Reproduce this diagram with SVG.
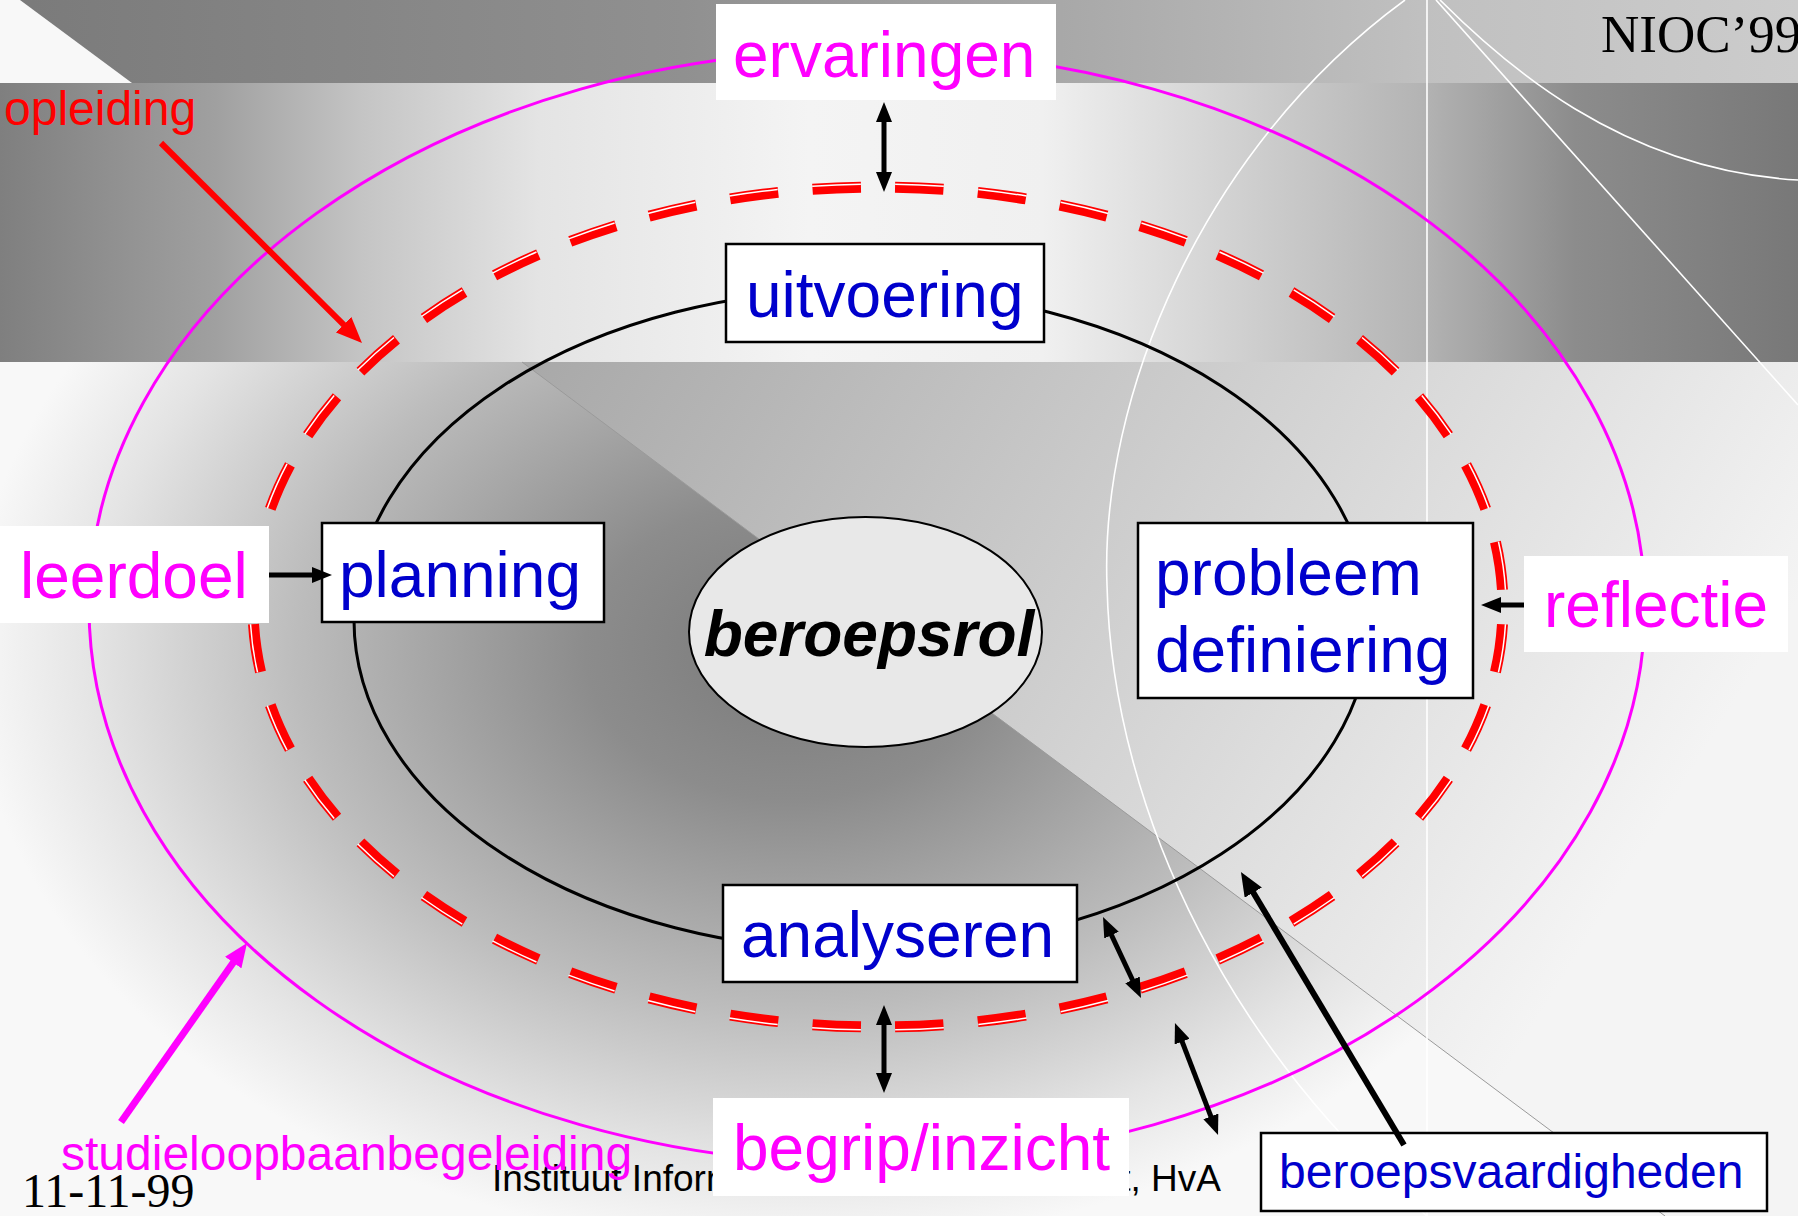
<svg xmlns="http://www.w3.org/2000/svg" width="1798" height="1216" viewBox="0 0 1798 1216">
<style>
.t{font-family:"Liberation Sans",Arial,sans-serif}
.big{font-size:64px}
.sm{font-size:48px}
.blue{fill:#0000cc}
.mag{fill:#ff00ff}
.red{fill:#ff0000}
.box{fill:#ffffff;stroke:#000000;stroke-width:2.5}
.lab{fill:#ffffff}
.wl{fill:none;stroke:#ffffff;stroke-width:1.6}
.ak{stroke:#000000;stroke-width:5;fill:none}
</style>
<defs>
<linearGradient id="gTop" gradientUnits="userSpaceOnUse" x1="0" y1="0" x2="1798" y2="0">
<stop offset="0" stop-color="#7a7a7a"/><stop offset="0.38" stop-color="#909090"/><stop offset="0.59" stop-color="#a8a8a8"/><stop offset="0.79" stop-color="#c0c0c0"/><stop offset="1" stop-color="#cccccc"/>
</linearGradient>
<linearGradient id="gMid" gradientUnits="userSpaceOnUse" x1="0" y1="0" x2="1798" y2="0">
<stop offset="0" stop-color="#7f7f7f"/><stop offset="0.12" stop-color="#a0a0a0"/><stop offset="0.2" stop-color="#c4c4c4"/><stop offset="0.3" stop-color="#e4e4e4"/><stop offset="0.45" stop-color="#f4f4f4"/><stop offset="0.58" stop-color="#f0f0f0"/><stop offset="0.69" stop-color="#d0d0d0"/><stop offset="0.79" stop-color="#b4b4b4"/><stop offset="0.876" stop-color="#8c8c8c"/><stop offset="1" stop-color="#787878"/>
</linearGradient>
<radialGradient id="gLow" gradientUnits="userSpaceOnUse" cx="790" cy="650" r="820" gradientTransform="translate(790 650) scale(1 0.73) translate(-790 -650)">
<stop offset="0" stop-color="#7a7a7a"/><stop offset="0.25" stop-color="#8c8c8c"/><stop offset="0.6" stop-color="#bcbcbc"/><stop offset="0.85" stop-color="#e4e4e4"/><stop offset="1" stop-color="#f8f8f8"/>
</radialGradient>
<linearGradient id="gRight" gradientUnits="userSpaceOnUse" x1="522" y1="362" x2="1550" y2="1000">
<stop offset="0" stop-color="#a8a8a8"/><stop offset="1" stop-color="#f4f4f4"/>
</linearGradient>
<marker id="mK" markerUnits="userSpaceOnUse" markerWidth="20" markerHeight="16" refX="4" refY="8" orient="auto-start-reverse"><path d="M0,0 L20,8 L0,16 Z" fill="#000000"/></marker>
<marker id="mK2" markerUnits="userSpaceOnUse" markerWidth="24" markerHeight="20" refX="5" refY="10" orient="auto"><path d="M0,0 L24,10 L0,20 Z" fill="#000000"/></marker>
<marker id="mR" markerUnits="userSpaceOnUse" markerWidth="26" markerHeight="22" refX="5" refY="11" orient="auto"><path d="M0,0 L26,11 L0,22 Z" fill="#ff0000"/></marker>
<marker id="mM" markerUnits="userSpaceOnUse" markerWidth="24" markerHeight="20" refX="5" refY="10" orient="auto"><path d="M0,0 L24,10 L0,20 Z" fill="#ff00ff"/></marker>
</defs>

<g id="background">
<rect x="0" y="0" width="1798" height="83" fill="url(#gTop)"/>
<polygon points="0,0 20,0 132,83 0,83" fill="#f8f8f8"/>
<rect x="0" y="83" width="1798" height="279" fill="url(#gMid)"/>
<rect x="0" y="362" width="1798" height="854" fill="url(#gLow)"/>
<polygon points="522,362 1798,362 1798,1216 1665,1216" fill="url(#gRight)"/>
<line x1="522" y1="362" x2="1665" y2="1216" stroke="#9a9a9a" stroke-width="1"/>
<line x1="1427" y1="0" x2="1427" y2="1216" class="wl"/>
<path d="M1405,0 C1200,150 1100,400 1107,585 C1112,820 1240,1060 1427,1216" class="wl"/>
<line x1="1436" y1="0" x2="1798" y2="405" class="wl"/>
<path d="M1440,0 C1500,60 1620,170 1798,180" class="wl"/>
</g>

<g id="footer">
<text x="1601" y="52" font-family="'Liberation Serif','Times New Roman',serif" font-size="53" fill="#000000">NIOC’99</text>
<text x="22" y="1207" font-family="'Liberation Serif','Times New Roman',serif" font-size="48" fill="#000000">11-11-99</text>
<text x="492" y="1191" class="t" font-size="37" fill="#000000">Instituut Inform</text>
<text x="1221" y="1191" class="t" font-size="37" fill="#000000" text-anchor="end">t, HvA</text>
</g>

<g id="cycles">
<ellipse id="c-outer" cx="867" cy="607" rx="778" ry="557" fill="none" stroke="#ff00ff" stroke-width="3"/>
<g id="c-dashed">
<ellipse cx="878" cy="607" rx="625" ry="420" fill="none" stroke="#ff0000" stroke-width="11" pathLength="1000" stroke-dasharray="14.6 10.4" stroke-dashoffset="19.8"/>
<ellipse cx="878" cy="607" rx="628" ry="423" fill="none" stroke="#ffffff" stroke-width="1.5" pathLength="1000" stroke-dasharray="14.6 10.4" stroke-dashoffset="19.8"/>
</g>
<ellipse id="c-inner" cx="862" cy="620" rx="508" ry="331" fill="none" stroke="#000000" stroke-width="3"/>
</g>

<g id="n-beroepsrol">
<ellipse cx="865.5" cy="632" rx="176.5" ry="115" fill="#e8e8e8" stroke="#000000" stroke-width="2"/>
<text x="869" y="656" class="t" font-size="64" font-weight="bold" font-style="italic" text-anchor="middle" fill="#000000">beroepsrol</text>
</g>

<g id="n-uitvoering">
<rect x="726" y="244" width="318" height="98" class="box"/>
<text x="746" y="317" class="t big blue">uitvoering</text>
</g>
<g id="n-planning">
<rect x="322" y="523" width="282" height="99" class="box"/>
<text x="339" y="597" class="t big blue">planning</text>
</g>
<g id="n-probleem">
<rect x="1138" y="523" width="335" height="175" class="box"/>
<text class="t big blue"><tspan x="1155" y="595">probleem</tspan><tspan x="1155" y="672">definiering</tspan></text>
</g>
<g id="n-analyseren">
<rect x="723" y="885" width="354" height="97" class="box"/>
<text x="741" y="957" class="t big blue">analyseren</text>
</g>
<g id="n-beroepsvaardigheden">
<rect x="1261" y="1133" width="506" height="78" class="box"/>
<text x="1279" y="1188" class="t sm blue">beroepsvaardigheden</text>
</g>

<g id="l-ervaringen">
<rect x="716" y="4" width="340" height="96" class="lab"/>
<text x="733" y="77" class="t big mag">ervaringen</text>
</g>
<g id="l-leerdoel">
<rect x="0" y="526" width="269" height="97" class="lab"/>
<text x="20" y="598" class="t big mag">leerdoel</text>
</g>
<g id="l-reflectie">
<rect x="1524" y="556" width="264" height="96" class="lab"/>
<text x="1544" y="627" class="t big mag">reflectie</text>
</g>
<g id="l-begrip">
<rect x="713" y="1098" width="416" height="98" class="lab"/>
<text x="733" y="1170" class="t big mag">begrip/inzicht</text>
</g>
<g id="l-opleiding">
<text x="4" y="125" class="t sm red">opleiding</text>
</g>
<g id="l-studie">
<text x="61" y="1170" class="t sm mag">studieloopbaanbegeleiding</text>
</g>

<g id="connectors">
<line x1="884" y1="118" x2="884" y2="176" class="ak" marker-start="url(#mK)" marker-end="url(#mK)"/>
<line x1="884" y1="1021" x2="884" y2="1077" class="ak" marker-start="url(#mK)" marker-end="url(#mK)"/>
<line x1="269" y1="575" x2="316" y2="575" class="ak" marker-end="url(#mK)"/>
<line x1="1524" y1="605" x2="1497" y2="605" class="ak" marker-end="url(#mK)"/>
<line x1="1109.8" y1="931.5" x2="1134.2" y2="983.5" class="ak" marker-start="url(#mK)" marker-end="url(#mK)"/>
<line x1="1180.7" y1="1037.9" x2="1212.3" y2="1120.1" class="ak" marker-start="url(#mK)" marker-end="url(#mK)"/>
<line x1="1404" y1="1145" x2="1250.7" y2="888.3" stroke="#000000" stroke-width="6" marker-end="url(#mK2)"/>
<line x1="161" y1="143" x2="347.1" y2="328.2" stroke="#ff0000" stroke-width="6" marker-end="url(#mR)"/>
<line x1="121" y1="1122" x2="236.1" y2="958.5" stroke="#ff00ff" stroke-width="7" marker-end="url(#mM)"/>
</g>
</svg>
